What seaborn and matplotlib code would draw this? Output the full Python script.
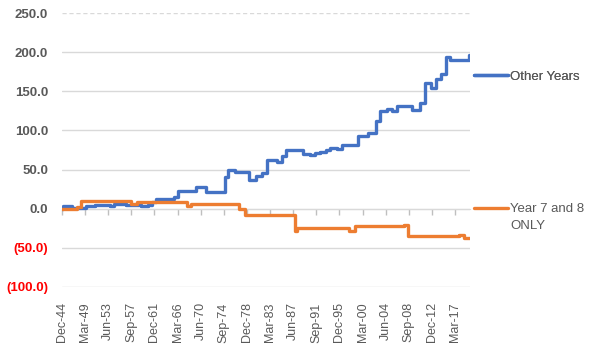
import numpy as np
import pandas as pd
import matplotlib
matplotlib.use('Agg')
import matplotlib.pyplot as plt
import seaborn as sns

# step breakpoints (month, cumulative value)
other_months = ['1944-12', '1945-03', '1946-09', '1949-06', '1951-01', '1953-09', '1954-06',
                '1955-09', '1956-09', '1959-06', '1960-09', '1961-06', '1962-03', '1964-06',
                '1965-06', '1966-05', '1969-08', '1971-06', '1974-12', '1975-06', '1976-09',
                '1979-04', '1980-08', '1981-10', '1982-08', '1984-06', '1985-06', '1986-01',
                '1989-03', '1990-06', '1991-06', '1992-06', '1993-06', '1994-03', '1995-06',
                '1996-06', '1999-04', '2001-03', '2002-09', '2003-06', '2004-09', '2005-09',
                '2006-06', '2009-03', '2010-09', '2011-09', '2012-09', '2013-09', '2014-09',
                '2015-06', '2016-03', '2019-09', '2019-12']
other_vals = [0, 4, 1, 4, 4.5, 4, 6,
              5.5, 4.5, 4, 5, 8, 12, 13,
              15, 23, 28, 21, 41, 50, 47.5,
              37, 41.5, 46, 62, 60, 67, 75,
              70, 69, 71, 73, 75, 78, 76.5,
              82, 93.5, 97, 112, 124.5, 128, 124.5,
              131, 126.5, 135, 160.5, 154, 166, 172,
              194, 189.5, 196, 196]

y78_months = ['1944-12', '1947-10', '1948-07', '1957-09', '1958-10', '1967-11', '1968-09',
              '1977-06', '1978-08', '1987-10', '1988-03', '1997-09', '1998-11', '2007-10',
              '2008-07', '2017-11', '2018-10', '2019-12']
y78_vals = [0, 2.5, 9.5, 6, 8.5, 3.5, 5.5,
            -1, -8, -28.5, -24.5, -28.5, -22.5, -21,
            -35, -33.5, -38, -38]

x_labels = ['Dec-44', 'Mar-49', 'Jun-53', 'Sep-57', 'Dec-61', 'Mar-66', 'Jun-70', 'Sep-74',
            'Dec-78', 'Mar-83', 'Jun-87', 'Sep-91', 'Dec-95', 'Mar-00', 'Jun-04', 'Sep-08',
            'Dec-12', 'Mar-17']
y_ticks = [-100, -50, 0, 50, 100, 150, 200, 250]
y_labels = ['(100.0)', '(50.0)', '0.0', '50.0', '100.0', '150.0', '200.0', '250.0']

blue = '#4472C4'
orange = '#ED7D31'
grey = '#595959'

sns.set_style('white')
plt.rcParams['font.family'] = ['Liberation Sans', 'DejaVu Sans']

fig = plt.figure(figsize=(5.92, 3.51), dpi=100)
ax = fig.add_axes([62 / 592, 1 - 287 / 351, (470 - 62) / 592, (287 - 13) / 351])

other = pd.DataFrame({'date': pd.to_datetime(other_months), 'val': other_vals})
y78 = pd.DataFrame({'date': pd.to_datetime(y78_months), 'val': y78_vals})

sns.lineplot(data=other, x='date', y='val', ax=ax, color=blue, linewidth=2.4,
             drawstyle='steps-post', legend=False)
sns.lineplot(data=y78, x='date', y='val', ax=ax, color=orange, linewidth=2.4,
             drawstyle='steps-post', legend=False)

ax.set_xlim(pd.Timestamp('1944-12-01'), pd.Timestamp('2019-12-01'))
ax.set_ylim(-100, 250)
ax.set_xlabel('')
ax.set_ylabel('')

# y axis
ax.set_yticks(y_ticks)
ax.set_yticklabels(y_labels, fontsize=9.5, fontweight='bold')
for lab, v in zip(ax.get_yticklabels(), y_ticks):
    lab.set_color('#FF0000' if v < 0 else grey)
ax.tick_params(axis='y', length=0, pad=10)
ax.grid(axis='y', color='#D9D9D9', linewidth=1)
ax.get_ygridlines()[-1].set_linestyle((0, (3, 2)))
ax.set_axisbelow(True)

# x axis labels at the bottom
xpos = pd.date_range('1944-12-01', periods=len(x_labels), freq='51MS')
ax.set_xticks(xpos)
ax.set_xticklabels(x_labels, rotation=90, fontsize=9, color=grey)
ax.tick_params(axis='x', length=0, pad=11)
for s in ax.spines.values():
    s.set_visible(False)

# category axis line with tick marks at zero
sec = ax.secondary_xaxis(100 / 350)
sec.set_xticks(xpos)
sec.tick_params(axis='x', direction='out', length=4, width=1, color='#BFBFBF', labelbottom=False)
sec.spines['bottom'].set_color('#D9D9D9')
sec.spines['bottom'].set_visible(True)
sec.spines['top'].set_visible(False)

# legends on the right
lines = ax.get_lines()
leg1 = fig.legend([lines[0]], ['Other Years'], loc='center left',
                  bbox_to_anchor=(462 / 592, 1 - 77 / 351), frameon=False,
                  handlelength=2.6, handletextpad=0.15, fontsize=9.5, labelcolor=grey)
leg2 = fig.legend([lines[1]], ['Year 7 and 8'], loc='center left',
                  bbox_to_anchor=(462 / 592, 1 - 209 / 351), frameon=False,
                  handlelength=2.6, handletextpad=0.15, fontsize=9.5, labelcolor=grey)
fig.add_artist(leg1)
fig.text(510 / 592, 1 - 226 / 351, 'ONLY', fontsize=9.5, color=grey, va='center', ha='left')

fig.savefig('out.png', dpi=100)
